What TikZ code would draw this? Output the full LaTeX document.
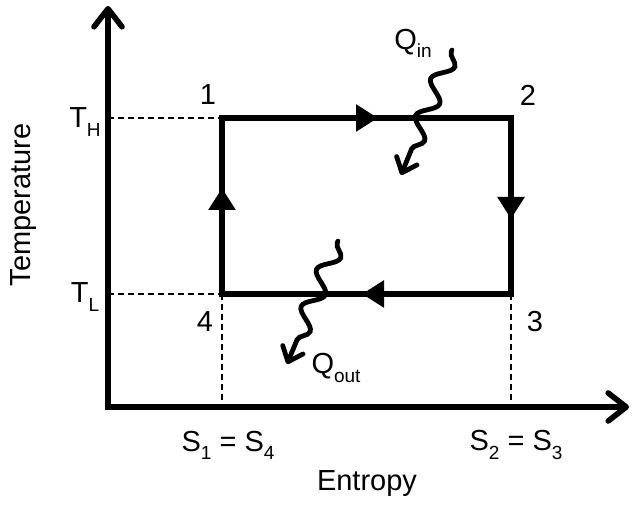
\documentclass[tikz,border=0pt]{standalone}
\usepackage{fontspec}
\setmainfont{Liberation Sans}
\usetikzlibrary{arrows.meta,decorations.pathmorphing,decorations.markings}
\newcommand{\lowidx}[1]{\raisebox{-0.28em}{\fontsize{9.5}{10}\selectfont #1}}

\begin{document}
\begin{tikzpicture}[x=0.5pt, y=-0.5pt, font=\fontsize{14.5}{17}\selectfont,
    axis/.style={line width=2.8pt, -{Straight Barb[length=9pt,width=14pt,round]}},
    guide/.style={line width=0.6pt, dash pattern=on 3pt off 2pt},
    cycleline/.style={line width=2.8pt, line join=miter,
        postaction=decorate, decoration={markings,
        mark=at position 78pt with {\arrow{Triangle[length=11pt,width=13pt]}},
        mark=at position 195pt with {\arrow{Triangle[length=11pt,width=13pt]}},
        mark=at position 307pt with {\arrow{Triangle[length=11pt,width=13pt]}},
        mark=at position 430pt with {\arrow{Triangle[length=11pt,width=13pt]}}}},
    heat/.style={line width=2.4pt, line cap=round,
        -{Straight Barb[length=6.5pt,width=11pt,round]},
        decorate, decoration={snake, amplitude=4.5pt, segment length=20pt,
        pre length=1pt, post length=9pt}}]
    \useasboundingbox (0,0) rectangle (633,506);

    % Axes
    \coordinate (o) at (108,407);
    \coordinate (ytip) at (108,6);
    \coordinate (xtip) at (629,407);
    \draw[axis] ([yshift=-1.4pt]o) -- (ytip);
    \draw[axis] ([xshift=-1.4pt]o) -- (xtip);
    \node[rotate=90] (tlabel) at (24,205) {Temperature};
    \node (slabel) at (367,484) {Entropy};

    % Cycle corners
    \coordinate (p1) at (222,118);
    \coordinate (p2) at (511,118);
    \coordinate (p3) at (511,294);
    \coordinate (p4) at (222,294);
    \coordinate (th) at (108,118);
    \coordinate (tl) at (108,294);
    \coordinate (s1) at (222,407);
    \coordinate (s2) at (511,407);

    % Dashed guides
    \draw[guide] (th) -- (p1);
    \draw[guide] (tl) -- (p4);
    \draw[guide] (p4) -- (s1);
    \draw[guide] (p3) -- (s2);

    % Carnot cycle
    \draw[cycleline] (p1) -- (p2) -- (p3) -- (p4) -- cycle;
    \node (n1) at (208,95) {1};
    \node (n2) at (528,95) {2};
    \node (n3) at (535,322) {3};
    \node (n4) at (205,322) {4};

    % Axis labels
    \node (thlabel) at (85,122) {T\lowidx{H}};
    \node (tllabel) at (85,297) {T\lowidx{L}};
    \node (s14) at (228,445) {S\lowidx{1} = S\lowidx{4}};
    \node (s23) at (516,445) {S\lowidx{2} = S\lowidx{3}};

    % Heat flows
    \coordinate (qin-a) at (452,50);
    \coordinate (qin-b) at (401,175);
    \coordinate (qout-a) at (338,241);
    \coordinate (qout-b) at (287,364);
    \draw[heat] (qin-a) -- (qin-b);
    \draw[heat] (qout-a) -- (qout-b);
    \node (qin) at (413,43) {Q\lowidx{in}};
    \node (qout) at (336,368) {Q\lowidx{out}};
\end{tikzpicture}
\end{document}
